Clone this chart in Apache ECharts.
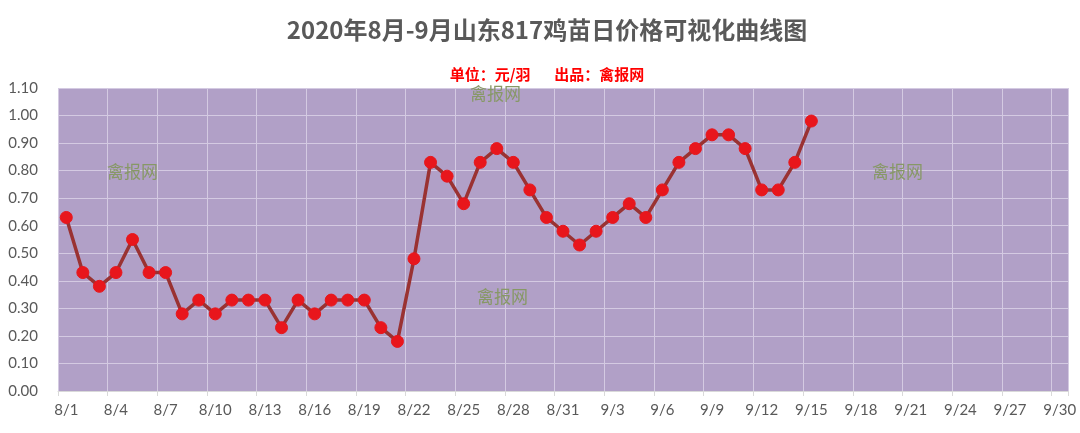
<!DOCTYPE html>
<html>
<head>
<meta charset="utf-8">
<script src="https://cdn.jsdelivr.net/npm/echarts@6/dist/echarts.min.js"></script>
<style>html,body{margin:0;padding:0;background:#fff;}#c{width:1080px;height:433px;}</style>
</head>
<body>
<div id="c"></div>
<script>
// categories: 8/1 .. 9/30
var categories = [];
for (var d = 1; d <= 31; d++) categories.push('8/' + d);
for (var d2 = 1; d2 <= 30; d2++) categories.push('9/' + d2);

var prices = [
  0.63, 0.43, 0.38, 0.43, 0.55, 0.43, 0.43, 0.28, 0.33, 0.28,
  0.33, 0.33, 0.33, 0.23, 0.33, 0.28, 0.33, 0.33, 0.33, 0.23,
  0.18, 0.48, 0.83, 0.78, 0.68, 0.83, 0.88, 0.83, 0.73, 0.63,
  0.58, 0.53, 0.58, 0.63, 0.68, 0.63, 0.73, 0.83, 0.88, 0.93,
  0.93, 0.88, 0.73, 0.73, 0.83, 0.98
];

var titleText = '2020年8月-9月山东817鸡苗日价格可视化曲线图';
var subText = '单位：元/羽       出品：禽报网';
var watermark = '禽报网';

var chart = echarts.init(document.getElementById('c'));
var wmStyle = {text: watermark, fill: '#879866', font: '17px "Noto Sans CJK SC"'};
chart.setOption({
  backgroundColor: '#ffffff',
  animation: false,
  title: [{
    text: titleText,
    left: 542,
    textAlign: 'center',
    top: 13,
    textStyle: {fontFamily: 'Noto Sans CJK SC', fontWeight: 'bold', fontSize: 24, color: '#595959'}
  }, {
    text: subText,
    left: 542,
    textAlign: 'center',
    top: 62,
    textStyle: {fontFamily: 'Noto Sans CJK SC', fontWeight: 'bold', fontSize: 15, color: '#ff0000'}
  }],
  grid: {left: 58, right: 12, top: 88, bottom: 42, show: true, backgroundColor: '#b1a0c7', borderWidth: 0},
  xAxis: {
    type: 'category',
    data: categories,
    boundaryGap: true,
    axisLine: {show: true, lineStyle: {color: '#d9d9d9'}},
    axisTick: {show: true, interval: 2, length: 5, lineStyle: {color: '#d9d9d9'}},
    axisLabel: {interval: 2, color: '#595959', fontSize: 15, fontFamily: 'Lato', margin: 12},
    splitLine: {show: true, interval: 2, lineStyle: {color: '#d4cae2', width: 1}}
  },
  yAxis: {
    type: 'value',
    min: 0, max: 1.1, interval: 0.1,
    axisLine: {show: false},
    axisTick: {show: false},
    axisLabel: {color: '#595959', fontSize: 15, fontFamily: 'Lato', margin: 20,
      formatter: function (v) { return v.toFixed(2); }},
    splitLine: {show: true, lineStyle: {color: '#d4cae2', width: 1}}
  },
  graphic: [
    {type: 'text', left: 107, top: 163, style: wmStyle, z: 1},
    {type: 'text', left: 470, top: 85, style: wmStyle, z: 1},
    {type: 'text', left: 477, top: 288, style: wmStyle, z: 1},
    {type: 'text', left: 872, top: 163, style: wmStyle, z: 1}
  ],
  series: [{
    type: 'line',
    data: prices,
    symbol: 'circle',
    symbolSize: 12,
    showAllSymbol: true,
    lineStyle: {color: '#9a3232', width: 3.5},
    itemStyle: {color: '#e8161c', borderColor: '#e8161c'},
    z: 5
  }]
});
</script>
</body>
</html>
